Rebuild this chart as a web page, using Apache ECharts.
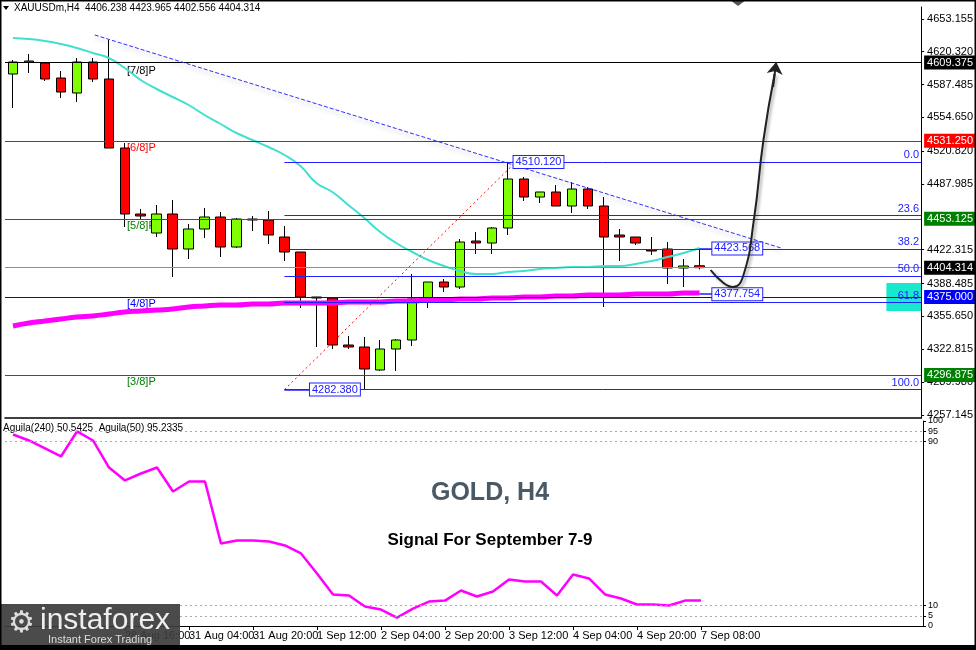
<!DOCTYPE html>
<html><head><meta charset="utf-8">
<script src="https://cdn.jsdelivr.net/npm/echarts@6/dist/echarts.min.js"></script>
<style>html,body{margin:0;padding:0;background:#fff}#c{width:976px;height:650px}</style>
</head><body><div id="c"></div>
<script>
const timeLabels = ["27 Aug 12:00","27 Aug 16:00","27 Aug 20:00","28 Aug 00:00","28 Aug 04:00","28 Aug 08:00","28 Aug 12:00","28 Aug 16:00","28 Aug 20:00","30 Aug 20:00","31 Aug 00:00","31 Aug 04:00","31 Aug 08:00","31 Aug 12:00","31 Aug 16:00","31 Aug 20:00","1 Sep 00:00","1 Sep 04:00","1 Sep 08:00","1 Sep 12:00","1 Sep 16:00","1 Sep 20:00","2 Sep 00:00","2 Sep 04:00","2 Sep 08:00","2 Sep 12:00","2 Sep 16:00","2 Sep 20:00","3 Sep 00:00","3 Sep 04:00","3 Sep 08:00","3 Sep 12:00","3 Sep 16:00","3 Sep 20:00","4 Sep 00:00","4 Sep 04:00","4 Sep 08:00","4 Sep 12:00","4 Sep 16:00","4 Sep 20:00","6 Sep 20:00","7 Sep 00:00","7 Sep 04:00","7 Sep 08:00"];
const opens  = [4598,4610,4609,4594,4579,4610,4593,4524,4458,4439,4458,4423,4443,4455,4425,4453,4452,4435,4420,4375,4374,4327,4325,4302,4323,4332,4373,4390,4385,4431,4429,4444,4493,4475,4480,4466,4483,4466,4437,4435,4422,4423,4404,4406.238];
const closes = [4610,4611,4593,4580,4610,4593,4524,4458,4456,4458,4423,4443,4455,4425,4453,4452,4437,4420,4375,4374,4327,4325,4303,4323,4332,4373,4390,4385,4430,4429,4444,4493,4475,4480,4466,4483,4466,4435,4435,4429,4421,4404,4406,4404.314];
const lows   = [4564,4599,4591,4574,4570,4590,4524,4445,4453,4435,4395,4413,4434,4415,4424,4441,4428,4411,4364,4325,4323,4323,4282.38,4301,4301,4326,4364,4380,4383,4418,4418,4437,4471,4469,4466,4459,4463,4365,4411,4427,4417,4388,4385,4402.556];
const highs  = [4612,4618,4610,4601,4614,4614,4632,4529,4463,4467,4472,4448,4464,4460,4454,4456,4461,4446,4420,4375,4375,4336,4335,4332,4333,4398,4390,4393,4433,4440,4445,4510.12,4495,4480,4487,4490,4485,4475,4443,4435,4435,4430,4413,4423.965];
const maFast = [4634,4633,4631,4628,4624,4619,4614,4604,4592,4583,4575,4567,4557,4548,4539,4532,4525,4517,4506,4489,4480,4467,4454,4440,4429,4420,4412,4406,4401,4398,4398,4400,4401,4403,4404,4405,4405,4406,4406,4408,4411,4415,4419,4424];
const maSlow = [4346,4349,4351,4353,4355,4356,4358,4360,4361,4362,4363,4365,4366,4367,4367,4368,4368,4369,4369,4369,4369,4370,4370,4370,4371,4371,4372,4372,4373,4373,4374,4374,4375,4375,4376,4376,4377,4377,4377,4378,4378,4378,4379,4379];
const aguila = [93.4,90.5,86.6,82.7,94.9,90.5,77.3,71.0,74.4,77.3,65.6,70.5,70.5,40.2,41.7,41.7,41.2,39.3,35.4,25.6,15.4,14.9,9.5,8.0,4.1,8.5,11.9,12.4,17.3,14.4,16.8,22.7,21.7,21.7,14.9,25.1,23.2,15.4,13.4,10.5,10.5,10.0,12.4,12.4];
const priceTicks = [4653.155,4620.320,4587.485,4554.650,4520.820,4487.985,4422.315,4388.485,4355.650,4322.815,4289.980,4257.145];
const oscTicks = [0,5,10,90,95,100];
const timeTickIdx = [3,7,11,15,19,23,27,31,35,39,43];
const murrey = [{v:4609.375,c:'#000000',t:'[7/8]P'},{v:4531.250,c:'#ff0000',t:'[6/8]P'},{v:4453.125,c:'#008000',t:'[5/8]P'},{v:4375.000,c:'#0000ff',t:'[4/8]P'},{v:4296.875,c:'#008000',t:'[3/8]P'}];
const fibHigh = 4510.12, fibLow = 4282.38;
const fibLevels = [0,23.6,38.2,50,61.8,100];
const lastPrice = 4404.314;

const XMAX = 56.875;
const candleData = opens.map((o,i)=>[i,o,closes[i],lows[i],highs[i]]);
const idx = opens.map((_,i)=>i);
const F = 'Liberation Sans, Arial, sans-serif';

const hLines = [];
murrey.forEach(m=>hLines.push({yAxis:m.v,lineStyle:{color:m.c,width:1,type:'solid'},
  label:{show:true,position:'end',formatter:m.v.toFixed(3),backgroundColor:m.c,color:'#fff',padding:[2,3,1,3],fontSize:11,fontFamily:F,distance:3}}));
hLines.push({yAxis:lastPrice,lineStyle:{color:'#8090a8',width:1,type:'solid'},
  label:{show:true,position:'end',formatter:lastPrice.toFixed(3),backgroundColor:'#000',color:'#fff',padding:[2,3,1,3],fontSize:11,fontFamily:F,distance:3}});
fibLevels.forEach(l=>{
  const v = fibHigh-(fibHigh-fibLow)*l/100;
  hLines.push([{coord:[17,v],lineStyle:{color:'#2020ff',width:1,type:'solid'},
    label:{show:true,position:'insideEndTop',formatter:l.toFixed(1),color:'#2020ff',fontSize:11,fontFamily:F,distance:[2,1]}},{coord:[XMAX,v]}]);
});
const box = (x1,x2,v)=>[{coord:[x1,v],lineStyle:{color:'#2020ff',width:1.5,type:'solid'},
  label:{show:true,position:'end',formatter:v.toFixed(3),color:'#2020ff',borderColor:'#2020ff',borderWidth:1,backgroundColor:'#fff',padding:[1,2,0,2],fontSize:11,fontFamily:F,distance:0}},{coord:[x2,v]}];
hLines.push(box(31.3,31.35,4510.12));
hLines.push(box(17,18.6,4282.38));
hLines.push(box(43,43.8,4423.568));
hLines.push(box(43,43.8,4377.754));
hLines.push([{coord:[5.125,4637],lineStyle:{color:'#3030ff',width:1,type:'dashed',shadowColor:'rgba(0,0,0,0.3)',shadowBlur:4,shadowOffsetY:3},label:{show:false}},{coord:[48.1,4424]}]);
hLines.push([{coord:[17,fibLow],lineStyle:{color:'#ff0000',width:1,type:[2,3]},label:{show:false}},{coord:[31.5,fibHigh]}]);

const option = {
  animation:false,
  backgroundColor:'#fff',
  grid:[{left:5,top:7,width:918,height:411},{left:5,top:421,width:918,height:205}],
  xAxis:[
    {type:'value',gridIndex:0,min:-0.5,max:XMAX,axisLabel:{show:false},axisTick:{show:false},splitLine:{show:false},axisLine:{show:true,onZero:false,lineStyle:{color:'#000',width:1.5}}},
    {type:'value',gridIndex:1,min:-0.5,max:XMAX,splitLine:{show:false},
      axisLine:{show:true,onZero:false,lineStyle:{color:'#000',width:1}},
      axisTick:{show:true,length:4,customValues:timeTickIdx,lineStyle:{color:'#000'}},
      axisLabel:{customValues:timeTickIdx,formatter:v=>timeLabels[Math.round(v)],color:'#000',fontSize:11,fontFamily:F,align:'left',margin:4}}
  ],
  yAxis:[
    {type:'value',gridIndex:0,position:'right',min:4254,max:4665,splitLine:{show:false},
      axisLine:{show:true,onZero:false,lineStyle:{color:'#000'}},
      axisTick:{show:true,length:3,customValues:priceTicks,lineStyle:{color:'#000'}},
      axisLabel:{customValues:priceTicks,formatter:v=>v.toFixed(3),color:'#000',fontSize:11,fontFamily:F,margin:6}},
    {type:'value',gridIndex:1,position:'right',min:0,max:100,splitLine:{show:false},
      axisLine:{show:true,onZero:false,lineStyle:{color:'#000'}},
      axisTick:{show:true,length:3,customValues:oscTicks,lineStyle:{color:'#000'}},
      axisLabel:{customValues:oscTicks,color:'#000',fontSize:9,fontFamily:F,margin:5}}
  ],
  series:[
    {type:'candlestick',xAxisIndex:0,yAxisIndex:0,data:candleData,encode:{x:0,y:[1,2,3,4]},barWidth:10,
      itemStyle:{color:'#80ff00',color0:'#ff0000',borderColor:'#000',borderColor0:'#000',borderWidth:1},
      markLine:{silent:true,symbol:'none',data:hLines},
      markArea:{silent:true,data:[[{coord:[54.7,4389],itemStyle:{color:'#19e8cf'}},{coord:[XMAX,4361]}]]}},
    {type:'line',xAxisIndex:0,yAxisIndex:0,data:idx.map(i=>[i,maFast[i]]),smooth:true,symbol:'none',lineStyle:{color:'#40e0d0',width:2},z:3},
    {type:'line',xAxisIndex:0,yAxisIndex:0,data:idx.map(i=>[i,maSlow[i]]),smooth:true,symbol:'none',lineStyle:{color:'#ff00ff',width:5},z:3},
    {type:'line',xAxisIndex:0,yAxisIndex:0,data:[[43.69,4402],[44.5,4389],[45.1,4385],[45.75,4397],[46.4,4452],[47,4532],[47.7,4598]],smooth:true,symbol:'none',
      lineStyle:{color:'#222',width:2,shadowColor:'rgba(0,0,0,0.35)',shadowBlur:3,shadowOffsetX:2,shadowOffsetY:2},z:5},
    {type:'lines',coordinateSystem:'cartesian2d',xAxisIndex:0,yAxisIndex:0,data:[{coords:[[47.6,4585],[47.8,4610]]}],symbol:['none','arrow'],symbolSize:12,lineStyle:{color:'#222',width:2,opacity:1},itemStyle:{color:'#222'},z:5},
    {type:'line',xAxisIndex:1,yAxisIndex:1,data:idx.map(i=>[i,aguila[i]]),symbol:'none',lineStyle:{color:'#ff00ff',width:2.5},
      markLine:{silent:true,symbol:'none',label:{show:false},lineStyle:{color:'#aaa',type:[2,3],width:1},data:[{yAxis:5},{yAxis:10},{yAxis:90},{yAxis:95}]}}
  ],
  graphic:[
    {type:'rect',shape:{x:0,y:0,width:976,height:650},style:{fill:'none',stroke:'#000',lineWidth:3},z:100},
    {type:'rect',shape:{x:0,y:645,width:976,height:5},style:{fill:'#000'},z:100},
    {type:'polygon',shape:{points:[[3,6],[9,6],[6,10]]},style:{fill:'#000'}},
    {type:'polygon',shape:{points:[[730,0],[746,0],[738,6]]},style:{fill:'#555'}},
    {type:'text',left:14,top:3,style:{text:'XAUUSDm,H4  4406.238 4423.965 4402.556 4404.314',font:'10px '+F,fill:'#000'}},
    {type:'text',left:3,top:423,style:{text:'Aguila(240) 50.5425  Aguila(50) 95.2335',font:'10px '+F,fill:'#000'}},
    ...murrey.map((m,i)=>({type:'text',left:127,top:[65,142,220,298,376][i],style:{text:m.t,font:'11px '+F,fill:m.c}})),
    {type:'text',x:490,y:493,style:{text:'GOLD, H4',font:'bold 25px '+F,fill:'#4a5966',align:'center',verticalAlign:'middle',stroke:'#fff',lineWidth:2,shadowColor:'rgba(0,0,0,0.5)',shadowBlur:4,shadowOffsetX:2,shadowOffsetY:2},z:20},
    {type:'text',x:490,y:540,style:{text:'Signal For September 7-9',font:'bold 17px '+F,fill:'#000',align:'center',verticalAlign:'middle',shadowColor:'rgba(0,0,0,0.35)',shadowBlur:3,shadowOffsetX:1,shadowOffsetY:2},z:20},
    {type:'rect',shape:{x:0,y:604,width:180,height:42},style:{fill:'rgba(60,60,60,0.92)'},z:50},
    {type:'text',x:8,y:609,style:{text:'⚙',font:'30px DejaVu Sans',fill:'#ddd'},z:51},
    {type:'text',x:40,y:606,style:{text:'instaforex',font:'30px '+F,fill:'#eee'},z:51},
    {type:'text',x:48,y:634,style:{text:'Instant Forex Trading',font:'11px '+F,fill:'#ddd'},z:51}
  ]
};
echarts.init(document.getElementById('c')).setOption(option);
</script></body></html>
